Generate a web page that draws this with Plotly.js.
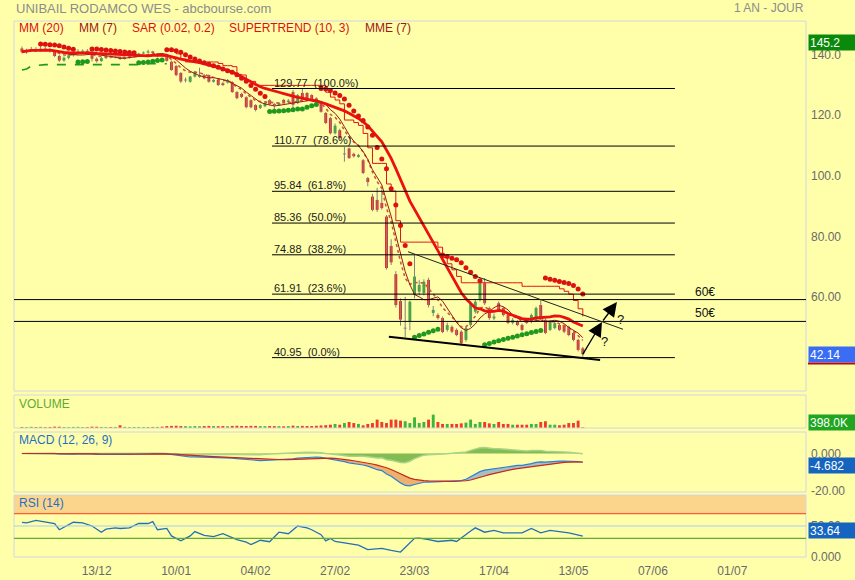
<!DOCTYPE html>
<html><head><meta charset="utf-8">
<script src="https://cdn.plot.ly/plotly-3.0.1.min.js"></script>
<style>html,body{margin:0;padding:0;background:#FFFFAA;}#chart{width:855px;height:580px;}</style>
</head><body><div id="chart"></div>
<script>
// ---------- data (bar index 0 = first visible session) ----------
const tickIndex  = [16, 33, 50, 67, 84, 101, 118, 135, 152];
const tickLabels = ['13/12','10/01','04/02','27/02','23/03','17/04','13/05','07/06','01/07'];

const open = [143.0,141.9,142.4,142.7,142.5,142.9,142.6,142.2,140.5,139.0,
139.9,140.7,141.6,141.9,142.2,141.8,139.6,138.8,139.8,140.3,
140.0,140.2,139.5,139.9,140.3,140.7,141.3,141.6,142.0,141.0,
141.2,140.8,138.6,137.2,134.9,132.4,132.0,133.7,133.6,134.2,
134.2,132.0,132.6,131.5,131.7,131.9,128.6,128.0,126.9,125.9,
124.3,123.3,123.9,125.9,124.6,124.3,126.0,125.3,128.6,125.0,
128.3,128.3,127.6,126.5,125.4,121.7,120.0,115.0,116.0,108.0,
110.0,108.2,107.2,106.1,100.2,94.1,93.0,92.0,87.5,77.8,
68.5,59.6,50.5,52.8,61.6,62.7,62.3,66.6,55.7,55.0,
54.0,50.1,51.1,50.1,49.5,46.8,51.7,56.1,60.0,65.5,
57.3,53.9,58.9,57.3,55.0,52.4,52.8,51.7,53.4,52.8,
53.4,58.3,53.4,50.1,50.7,51.7,51.7,51.1,49.1,46.8,
44.0];
const high = [143.6,142.9,143.5,143.4,143.7,143.5,143.1,142.5,140.9,140.4,
141.1,142.0,142.8,142.7,142.8,142.0,140.1,140.2,140.7,140.7,
140.6,140.5,140.3,140.6,141.0,141.6,142.0,142.6,142.2,141.5,
141.5,141.2,139.0,137.6,135.2,133.4,133.9,135.6,136.6,134.6,
134.4,132.9,132.9,131.9,132.9,132.2,128.9,128.4,127.2,126.2,
124.6,124.6,125.4,126.3,125.0,125.3,126.4,126.3,129.3,128.0,
129.77,128.6,127.9,126.9,125.7,122.0,120.4,118.2,116.5,110.5,
110.3,108.6,108.2,106.5,100.6,95.0,97.0,96.3,88.0,80.0,
69.5,60.5,61.0,59.8,74.8,66.5,66.8,67.3,58.0,55.6,
54.5,52.5,51.6,50.6,50.0,51.5,59.5,60.0,66.0,67.2,
57.8,55.5,59.5,57.8,55.5,54.0,53.3,52.2,53.9,55.5,
57.8,60.0,53.9,53.3,53.0,52.2,52.0,51.5,49.5,47.2,
44.5];
const low = [141.4,141.2,141.9,141.9,142.0,142.0,141.6,140.1,138.5,138.6,
139.4,140.3,141.1,141.3,141.3,138.7,138.3,138.6,139.5,139.7,
139.7,139.2,139.3,139.6,140.1,140.5,141.1,141.3,141.2,140.0,
140.4,138.6,135.6,133.8,131.6,131.8,131.7,133.4,133.3,132.8,
131.7,131.7,130.6,130.6,131.4,128.3,126.2,126.6,123.2,123.2,
122.2,123.0,123.6,124.2,122.9,124.0,125.0,124.8,123.0,124.6,
125.8,126.3,125.7,125.1,121.8,118.0,114.6,114.6,113.0,105.6,
106.5,107.0,106.9,101.5,97.5,89.2,89.0,89.8,70.0,71.5,
57.5,51.5,47.7,50.0,60.5,61.5,61.5,57.5,54.6,53.5,
49.0,49.5,49.0,48.0,45.2,46.2,51.0,55.5,59.5,58.3,
53.4,53.3,56.2,54.5,52.0,51.9,51.3,49.6,52.0,52.3,
53.0,53.6,48.7,49.7,50.3,49.7,49.0,48.0,46.3,43.0,
40.95];
const close = [141.9,142.4,142.7,142.5,142.9,142.6,142.2,140.5,139.0,139.9,
140.7,141.6,141.9,142.2,141.8,139.6,138.8,139.8,140.3,140.0,
140.2,139.5,139.9,140.3,140.7,141.3,141.6,142.0,141.5,141.2,
140.8,138.9,135.9,134.2,132.1,132.6,133.7,135.3,134.2,133.1,
132.0,132.6,130.9,130.9,132.6,128.6,126.6,127.0,123.6,123.6,
122.7,124.3,125.0,124.6,124.3,125.0,125.3,125.8,124.4,127.6,
126.0,126.6,126.0,125.4,122.1,118.4,115.0,117.5,113.4,108.2,
106.8,107.4,107.8,101.9,98.9,89.7,89.7,90.3,70.5,72.4,
58.3,53.5,50.7,59.4,67.7,64.9,66.0,58.3,56.7,54.0,
49.4,51.7,49.5,48.4,45.7,50.7,58.9,59.4,65.5,58.9,
54.0,54.5,56.7,55.0,52.4,53.4,51.7,50.1,52.4,55.0,
57.3,54.0,49.1,52.8,52.3,50.1,49.5,48.4,46.8,43.5,
42.14];
// volume in thousands
const volume = [70,60,80,65,75,60,70,90,85,65,60,70,75,60,65,90,85,70,60,65,
70,180,75,60,65,70,60,65,70,75,90,
130,140,150,130,120,110,125,115,130,140,125,120,130,115,140,150,135,130,145,140,
125,120,130,125,120,115,125,160,130,140,135,130,150,170,190,
220,270,220,330,400,330,270,180,270,330,560,400,330,560,560,490,450,330,710,330,400,560,
890,400,270,270,270,270,310,360,560,270,400,400,310,270,400,270,270,220,220,220,220,
270,270,400,450,220,220,180,220,330,330,490,45];
// RSI (14): bar index -> value
const rsiIdx = [0,1,3,4,6,7,8,9,11,13,15,17,18,20,21,23,25,27,28,29,31,32,34,36,37,39,41,43,46,48,
49,51,53,55,57,59,61,62,64,65,66,67,70,72,74,77,79,81,84,85,87,89,92,93,96,97,99,101,103,107,109,111,113,115,117,120];
const rsiVal = [56,55,59,58,56,54,44,48,56,55,50,40,45,47,46,47,54,54,57,44,46,34,26,34,41,35,33,37.5,28,24,
20,27,24.6,40,37.5,50,47,44,36,26,30,25,22,19,12,14,10.6,8,30,30.5,28,25,27,25,42,47,40,43,39,39,46,39,43,41,39,33.64];

const sarStart = 145.0;            // SAR level before first bar
const sarFirstShown = 4;
const fibLevels = [129.77, 110.77, 95.84, 85.36, 74.88, 61.91, 40.95];
const fibPct    = ['100.0%','78.6%','61.8%','50.0%','38.2%','23.6%','0.0%'];
const fibFrom = 53.5, fibTo = 139.7;
const levelValues = [60.1, 52.9];
const levelLabels = ['60€', '50€'];
const trendA = {x:[78.5,123.7], y:[47.86,40.15]};
const trendB = {x:[82.6,128.6], y:[75.9,50.3]};
const arrowTail = [[119.8,41.5],[124.1,52.7]];
const arrowHead = [[124.1,52.7],[127.3,59.3]];
const questionPts = [[128.0,53.6],[124.6,46.4]];
const lastClose = 42.14, topLabel = 145.2, volLabel = 398, macdLabel = -4.682, rsiLabel = 33.64;

// ---------- indicators ----------
const idx = close.map((_, i) => i);
function sma(a, n){ return a.map((_, i) => { const s = Math.max(0, i-n+1); let t = 0; for (let k = s; k <= i; k++) t += a[k]; return t/(i-s+1); }); }
function ema(a, n){ const k = 2/(n+1), o = []; a.forEach((v, i) => o.push(i ? v*k + o[i-1]*(1-k) : v)); return o; }
function psar(h, l, s0, step, mx){
  let up = false, sar = s0, ep = l[0], af = step; const out = [sar], tr = [up];
  for (let i = 1; i < h.length; i++){
    sar = sar + af*(ep - sar);
    const p1 = i-1, p2 = i > 1 ? i-2 : i-1;
    if (up){ sar = Math.min(sar, l[p1], l[p2]);
      if (l[i] < sar){ up = false; sar = ep; ep = l[i]; af = step; }
      else if (h[i] > ep){ ep = h[i]; af = Math.min(af+step, mx); } }
    else { sar = Math.max(sar, h[p1], h[p2]);
      if (h[i] > sar){ up = true; sar = ep; ep = h[i]; af = step; }
      else if (l[i] < ep){ ep = l[i]; af = Math.min(af+step, mx); } }
    out.push(sar); tr.push(up);
  }
  return {sar: out, up: tr};
}
function supertrend(h, l, c, n, m){
  const atr = [], fu = [], fd = [], tr = []; let trend = 1;
  for (let i = 0; i < c.length; i++){
    const t = i ? Math.max(h[i]-l[i], Math.abs(h[i]-c[i-1]), Math.abs(l[i]-c[i-1])) : h[i]-l[i];
    atr.push(i === 0 ? t : (i < n ? (atr[i-1]*i + t)/(i+1) : (atr[i-1]*(n-1) + t)/n));
    const mid = (h[i]+l[i])/2, bu = mid + m*atr[i], bd = mid - m*atr[i];
    fu.push(i && !(bu < fu[i-1] || c[i-1] > fu[i-1]) ? fu[i-1] : bu);
    fd.push(i && !(bd > fd[i-1] || c[i-1] < fd[i-1]) ? fd[i-1] : bd);
    if (trend === 1 && c[i] < fd[i]) trend = -1; else if (trend === -1 && c[i] > fu[i]) trend = 1;
    tr.push(trend);
  }
  return {up: tr.map((t, i) => t === 1 ? fd[i] : null), dn: tr.map((t, i) => t === -1 ? fu[i] : null)};
}
const mm20 = sma(close, 20), mm7 = sma(close, 7), mme7 = ema(close, 7);
const ps = psar(high, low, sarStart, 0.02, 0.2);
const st = supertrend(high, low, close, 10, 3);
const e12 = ema(close, 12), e26 = ema(close, 26);
const macd = e12.map((v, i) => v - e26[i]);
const signal = ema(macd, 9);
const hist = macd.map((v, i) => v - signal[i]);

const isUp = close.map((c, i) => c >= open[i]);
const candleCol = close.map((c, i) => Math.abs(c-open[i]) < 0.25 ? '#8A8A8A' : (c >= open[i] ? '#2DB52D' : '#EE2020'));
const volCol = isUp.map(u => u ? '#3DB53D' : '#F03A2A');

// wicks as segments
const wx = [], wy = [];
idx.forEach(i => { wx.push(i, i, null); wy.push(low[i], high[i], null); });

const sarUpY = ps.sar.map((v, i) => (i >= sarFirstShown && ps.up[i]) ? v : null);
const sarDnY = ps.sar.map((v, i) => (i >= sarFirstShown && !ps.up[i]) ? v : null);

const traces = [
  {type:'scatter', mode:'lines', x:wx, y:wy, line:{color:'#808080', width:1}, xaxis:'x', yaxis:'y', hoverinfo:'skip'},
  {type:'bar', x:idx, base:idx.map(i => Math.min(open[i], close[i])), y:idx.map(i => Math.max(Math.abs(close[i]-open[i]), 0.35)),
   width:0.62, marker:{color:candleCol, line:{width:0}}, xaxis:'x', yaxis:'y'},
  {type:'scatter', mode:'lines', x:idx, y:st.up, line:{color:'#1E9A1E', width:1.6, dash:'dash'}, xaxis:'x', yaxis:'y'},
  {type:'scatter', mode:'lines', x:idx, y:st.dn, line:{color:'#E01515', width:1, shape:'hv'}, xaxis:'x', yaxis:'y'},
  {type:'scatter', mode:'lines', x:idx, y:mme7, line:{color:'#C85A3A', width:1.6, dash:'dot'}, xaxis:'x', yaxis:'y'},
  {type:'scatter', mode:'lines', x:idx, y:mm7, line:{color:'#9A1A1A', width:1}, xaxis:'x', yaxis:'y'},
  {type:'scatter', mode:'lines', x:idx, y:mm20, line:{color:'#EC1010', width:2.8}, xaxis:'x', yaxis:'y'},
  {type:'scatter', mode:'markers', x:idx, y:sarDnY, marker:{color:'#DD1111', size:5}, xaxis:'x', yaxis:'y'},
  {type:'scatter', mode:'markers', x:idx, y:sarUpY, marker:{color:'#1E991E', size:5}, xaxis:'x', yaxis:'y'},
  // volume
  {type:'bar', x:idx, y:volume, width:0.62, marker:{color:volCol, line:{width:0}}, xaxis:'x', yaxis:'y2'},
  // MACD
  {type:'scatter', mode:'lines', x:idx, y:hist, fill:'tozeroy', fillcolor:'rgba(108,176,68,0.85)', line:{color:'#A9D38A', width:1.5}, xaxis:'x', yaxis:'y3'},
  {type:'scatter', mode:'lines', x:idx, y:signal, line:{width:0, color:'rgba(0,0,0,0)'}, xaxis:'x', yaxis:'y3'},
  {type:'scatter', mode:'lines', x:idx, y:macd.map((v, i) => Math.max(v, signal[i])), fill:'tonexty', fillcolor:'rgba(110,150,200,0.6)', line:{width:0, color:'rgba(0,0,0,0)'}, xaxis:'x', yaxis:'y3'},
  {type:'scatter', mode:'lines', x:idx, y:signal, line:{width:0, color:'rgba(0,0,0,0)'}, xaxis:'x', yaxis:'y3'},
  {type:'scatter', mode:'lines', x:idx, y:macd.map((v, i) => Math.min(v, signal[i])), fill:'tonexty', fillcolor:'rgba(225,125,70,0.6)', line:{width:0, color:'rgba(0,0,0,0)'}, xaxis:'x', yaxis:'y3'},
  {type:'scatter', mode:'lines', x:idx, y:macd, line:{color:'#2C7FD6', width:1.2}, xaxis:'x', yaxis:'y3'},
  {type:'scatter', mode:'lines', x:idx, y:signal, line:{color:'#C8281E', width:1.2}, xaxis:'x', yaxis:'y3'},
  // RSI
  {type:'scatter', mode:'lines', x:rsiIdx, y:rsiVal, line:{color:'#2270B8', width:1.3}, xaxis:'x', yaxis:'y4'}
];

// ---------- layout ----------
const W = 855, Hh = 580, L = 14, R = 806, T = 21, B = 557;
const PW = R - L, PH = B - T;
const px2x = p => (p - L)/PW, py2y = p => (B - p)/PH;
const dom = (top, bot) => [py2y(bot), py2y(top)];
const font = 'Liberation Sans, Arial, sans-serif';
const axisBase = {side:'right', anchor:'x', showgrid:false, zeroline:false, showline:false, ticks:'', fixedrange:true,
  ticklabelstandoff:4, tickfont:{family:font, size:12, color:'#6A6A6A'}};

const shapes = [];
[[T,391],[395,428],[432,492],[495,B]].forEach(([a,b]) => shapes.push({type:'rect', xref:'paper', yref:'paper', x0:0, x1:1, y0:py2y(b), y1:py2y(a), line:{color:'#D2D4E4', width:1}, layer:'above'}));
shapes.push({type:'rect', xref:'paper', yref:'y4', x0:0, x1:1, y0:70, y1:100, fillcolor:'#FCD58C', line:{width:0}, layer:'below'});
shapes.push({type:'line', xref:'paper', yref:'y4', x0:0, x1:1, y0:70, y1:70, line:{color:'#FF5A36', width:1.2}});
shapes.push({type:'line', xref:'paper', yref:'y4', x0:0, x1:1, y0:50, y1:50, line:{color:'#A6CCF2', width:1.2}});
shapes.push({type:'line', xref:'paper', yref:'y4', x0:0, x1:1, y0:30, y1:30, line:{color:'#62A83A', width:1.2}});
fibLevels.forEach(v => shapes.push({type:'line', xref:'x', yref:'y', x0:fibFrom, x1:fibTo, y0:v, y1:v, line:{color:'#000', width:1}, layer:'above'}));
levelValues.forEach(v => shapes.push({type:'line', xref:'paper', yref:'y', x0:0, x1:1, y0:v, y1:v, line:{color:'#000', width:1}, layer:'above'}));
shapes.push({type:'line', xref:'x', yref:'y', x0:trendA.x[0], x1:trendA.x[1], y0:trendA.y[0], y1:trendA.y[1], line:{color:'#000', width:2}, layer:'above'});
shapes.push({type:'line', xref:'x', yref:'y', x0:trendB.x[0], x1:trendB.x[1], y0:trendB.y[0], y1:trendB.y[1], line:{color:'#222', width:1}, layer:'above'});
shapes.push({type:'line', xref:'paper', yref:'paper', x0:px2x(808), x1:px2x(856), y0:py2y(363.5), y1:py2y(363.5), line:{color:'#CC0000', width:2}});

const ann = [];
const txt = (x, y, t, c, size, xa) => ann.push({xref:'paper', yref:'paper', x:px2x(x), y:py2y(y), text:t, showarrow:false, xanchor:xa||'left', yanchor:'middle', font:{family:font, size:size||12, color:c}});
txt(14, 8, 'UNIBAIL RODAMCO WES - abcbourse.com', '#8C8C8C', 13);
txt(806, 8, '1 AN - JOUR', '#8C8C8C', 12, 'right');
txt(17, 28, 'MM (20)', '#E01010'); txt(77, 28, 'MM (7)', '#A01818'); txt(130, 28, 'SAR (0.02, 0.2)', '#E01010');
txt(227, 28, 'SUPERTREND (10, 3)', '#E01010'); txt(363, 28, 'MME (7)', '#A01818');
txt(17, 404, 'VOLUME', '#5DAA35'); txt(17, 440, 'MACD (12, 26, 9)', '#1E6FC8'); txt(17, 503, 'RSI (14)', '#1E6FC8');
fibLevels.forEach((v, k) => ann.push({xref:'x', yref:'y', x:fibFrom, y:v, text:v.toFixed(2)+'\u00a0\u00a0('+fibPct[k]+')', showarrow:false,
  xanchor:'left', yanchor:'bottom', yshift:-2, font:{family:font, size:11, color:'#1A1A1A'}}));
levelValues.forEach((v, k) => ann.push({xref:'x', yref:'y', x:143.6, y:v, text:levelLabels[k], showarrow:false, xanchor:'left', yanchor:'bottom', yshift:-1, font:{family:font, size:12, color:'#111'}}));
arrowHead.forEach((h, k) => ann.push({xref:'x', yref:'y', axref:'x', ayref:'y', x:h[0], y:h[1], ax:arrowTail[k][0], ay:arrowTail[k][1], text:'', showarrow:true,
  arrowhead:2, arrowsize:2.2, arrowwidth:1.3, arrowcolor:'#000', standoff:0, startstandoff:0}));
questionPts.forEach(p => ann.push({xref:'x', yref:'y', x:p[0], y:p[1], text:'?', showarrow:false, font:{family:font, size:13, color:'#111'}}));
const box = (yref, y, t, bg, shift) => ann.push({xref:'paper', yref:yref, x:px2x(808), y:y, yshift:shift||0, text:t, showarrow:false, xanchor:'left', yanchor:'middle', align:'left',
  width:45, height:13, borderpad:1, bgcolor:bg, font:{family:font, size:12, color:'#FFFFFF'}});
box('y', topLabel, topLabel.toFixed(1), '#0A8A0A', -1);
box('y', lastClose, lastClose.toFixed(2), '#3A6CF4', 0);
box('y2', volLabel, volLabel.toFixed(1)+'K', '#1FA51F', 0);
box('y3', macdLabel, macdLabel.toFixed(3), '#1565C0', -3);
box('y4', rsiLabel, rsiLabel.toFixed(2), '#1565C0', 6);

const layout = {
  width:W, height:Hh, margin:{l:L, r:W-R, t:T, b:Hh-B}, paper_bgcolor:'#FFFFAA', plot_bgcolor:'#FFFFAA',
  showlegend:false, hovermode:false, barmode:'overlay', font:{family:font},
  xaxis:{range:[-1.69, 167.75], anchor:'y4', tickvals:tickIndex, ticktext:tickLabels, showgrid:false, zeroline:false, showline:false, ticks:'',
    ticklabelstandoff:5, tickfont:{family:font, size:12, color:'#6A6A6A'}, fixedrange:true},
  yaxis:Object.assign({}, axisBase, {domain:dom(T,391), range:[29.93,152.05], ticklabelshift:-3, tickvals:[60,80,100,120,140], ticktext:['60.00','80.00','100.0','120.0','140.0']}),
  yaxis2:Object.assign({}, axisBase, {domain:dom(395,428), range:[0,2200], showticklabels:false}),
  yaxis3:Object.assign({}, axisBase, {domain:dom(432,492), range:[-20.8,11.6], tickvals:[0,-20], ticktext:['0.000','-20.00']}),
  yaxis4:Object.assign({}, axisBase, {domain:dom(495,B), range:[0,100], tickvals:[0,50], ticktext:['0.000','50.00']}),
  shapes:shapes, annotations:ann
};
Plotly.newPlot('chart', traces, layout, {displayModeBar:false, staticPlot:true});
</script></body></html>
